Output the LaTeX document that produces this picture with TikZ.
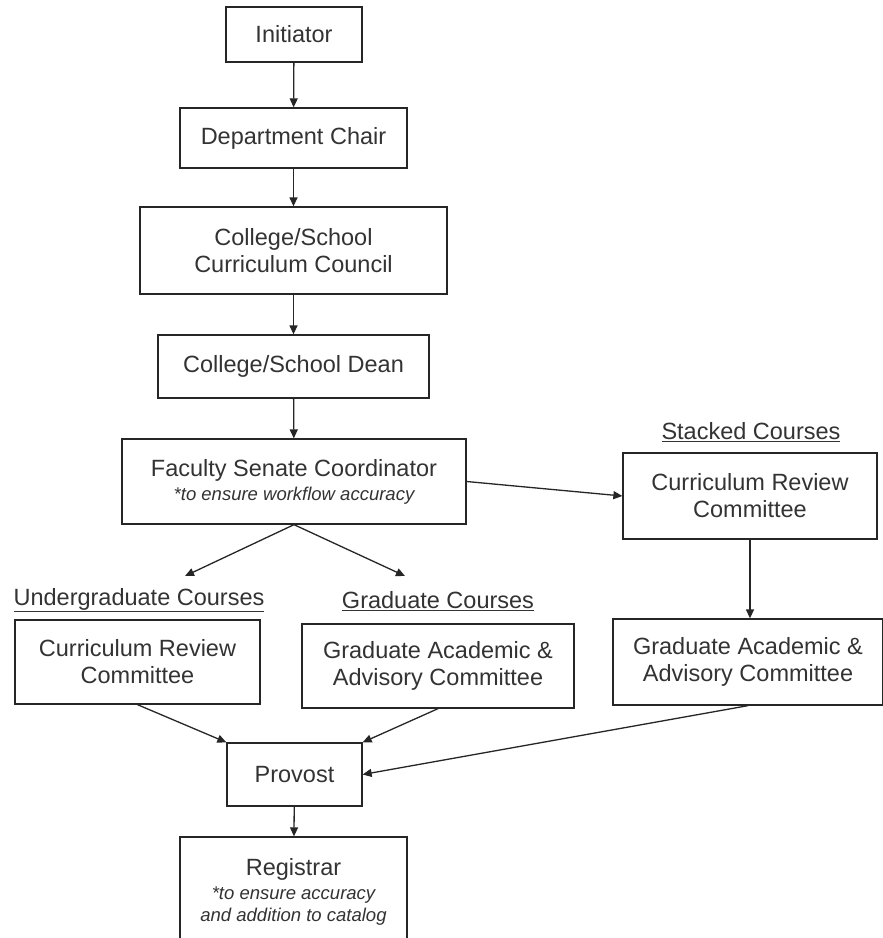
\documentclass[tikz,border=0pt]{standalone}
\usepackage{fontspec}
\setmainfont{Liberation Sans}
\usetikzlibrary{arrows.meta}
\begin{document}
\begin{tikzpicture}[x=1pt,y=-1pt,
 box/.style={draw=black!85, line width=1.3pt, align=center, inner sep=0pt, font=\fontsize{23.5}{27}\selectfont, text=black!80},
 arr/.style={draw=black!85, line width=1.3pt, -{Triangle[length=9pt,width=8pt]}},
 lbl/.style={font=\fontsize{23.5}{27}\selectfont, text=black!80}]
\useasboundingbox (0,0) rectangle (883,938);
\clip (0,0) rectangle (883,938);
\fill[white] (0,0) rectangle (883,938);

\node[box, minimum width=136pt, minimum height=55pt] (init) at (294,34.5) {Initiator};
\node[box, minimum width=227pt, minimum height=60pt] (chair) at (293.5,138) {Department Chair};
\node[box, minimum width=307pt, minimum height=87pt] (council) at (293.5,250.5) {College/School\\Curriculum Council};
\node[box, minimum width=271pt, minimum height=63pt] (dean) at (293.5,366.5) {College/School Dean};
\node[box, minimum width=344pt, minimum height=85pt] (fsc) at (294,481.5) {Faculty Senate Coordinator\\[-3pt]{\fontsize{18.5}{22}\selectfont\itshape *to ensure workflow accuracy}};

\node[lbl] (stackl) at (751,432) {\underline{Stacked Courses}};
\node[box, minimum width=254pt, minimum height=86pt] (scrc) at (750,496) {Curriculum Review\\Committee};
\node[box, minimum width=270pt, minimum height=86pt] (sgaac) at (748,662) {Graduate Academic \&\\Advisory Committee};

\node[lbl] (ugl) at (139,600) {\underline{Undergraduate Courses}};
\node[box, minimum width=245pt, minimum height=84pt] (ugcrc) at (137.5,662) {Curriculum Review\\Committee};
\node[lbl] (gl) at (438,601) {\underline{Graduate Courses}};
\node[box, minimum width=272pt, minimum height=84pt] (gaac) at (438,666) {Graduate Academic \&\\Advisory Committee};

\node[box, minimum width=135pt, minimum height=63pt] (prov) at (294.5,774.5) {Provost};
\node[box, minimum width=227pt, minimum height=110pt] (reg) at (293.5,892) {Registrar\\[-3pt]{\fontsize{18.5}{22}\selectfont\itshape *to ensure accuracy}\\[-5pt]{\fontsize{18.5}{22}\selectfont\itshape and addition to catalog}};

\coordinate (ugtip) at (185,576);
\coordinate (gtip) at (405,576);

\draw[arr] (init) -- (chair);
\draw[arr] (chair) -- (council);
\draw[arr] (council) -- (dean);
\draw[arr] (dean) -- (fsc);
\draw[arr] (fsc.south) -- (ugtip);
\draw[arr] (fsc.south) -- (gtip);
\draw[arr] (fsc.east) -- (scrc.west);
\draw[arr] (scrc.south) -- (scrc.south |- sgaac.north);
\draw[arr] (ugcrc.south) -- (prov.north west);
\draw[arr] (gaac.south) -- (prov.north east);
\draw[arr] (sgaac.south) -- (prov.east);
\draw[arr] (prov) -- (reg);
\end{tikzpicture}
\end{document}
